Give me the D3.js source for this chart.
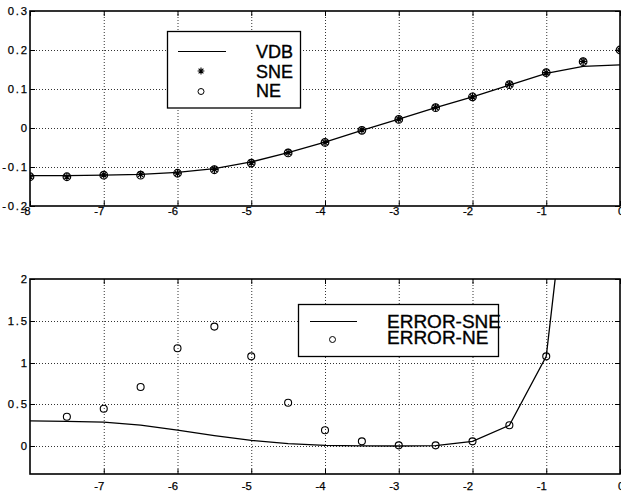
<!DOCTYPE html>
<html>
<head>
<meta charset="utf-8">
<script src="https://cdn.jsdelivr.net/npm/d3@7"></script>
<style>
  html, body { margin: 0; padding: 0; background: #fff; }
  svg { display: block; font-family: "Liberation Sans", Arial, sans-serif; }
</style>
</head>
<body>
<svg id="chart" width="621" height="495"></svg>
<script>
// ---------- data ----------
const xValues = [-8, -7.5, -7, -6.5, -6, -5.5, -5, -4.5, -4, -3.5, -3, -2.5, -2, -1.5, -1, -0.5, 0];
const vdb = [-0.122, -0.122, -0.121, -0.119, -0.114, -0.104, -0.087, -0.063, -0.036, -0.006, 0.023, 0.052, 0.080, 0.110, 0.140, 0.158, 0.162];
const sne = [-0.125, -0.125, -0.120, -0.119, -0.116, -0.106, -0.089, -0.063, -0.037, -0.005, 0.023, 0.053, 0.080, 0.112, 0.142, 0.171, 0.200];
const ne  = [-0.125, -0.125, -0.121, -0.121, -0.116, -0.107, -0.090, -0.064, -0.037, -0.006, 0.022, 0.052, 0.080, 0.111, 0.142, 0.170, 0.200];

const errSneX = [-8, -7.5, -7, -6.5, -6, -5.5, -5, -4.5, -4, -3.5, -3, -2.5, -2, -1.5, -1, -0.5];
const errSne  = [0.300, 0.296, 0.287, 0.250, 0.190, 0.125, 0.068, 0.028, 0.008, 0.002, 0.000, 0.005, 0.055, 0.248, 1.074, 4.9];
const errNeX  = [-7.5, -7, -6.5, -6, -5.5, -5, -4.5, -4, -3.5, -3, -2.5, -2, -1.5, -1, -0.5];
const errNe   = [0.351, 0.447, 0.707, 1.170, 1.430, 1.074, 0.519, 0.188, 0.056, 0.008, 0.008, 0.056, 0.248, 1.074, 4.9];

const topXTicks = [-8, -7, -6, -5, -4, -3, -2, -1, 0];
const topYTicks = [-0.2, -0.1, 0, 0.1, 0.2, 0.3];
const botXTicks = [-7, -6, -5, -4, -3, -2, -1, 0];
const botYTicks = [0, 0.5, 1, 1.5, 2];

const topLegend = ["VDB", "SNE", "NE"];
const botLegend = ["ERROR-SNE", "ERROR-NE"];

// ---------- drawing ----------
const svg = d3.select("#chart");

function starPath(r) {
  const d = r * Math.SQRT1_2;
  return `M${-r},0L${r},0M0,${-r}L0,${r}M${-d},${-d}L${d},${d}M${-d},${d}L${d},${-d}`;
}

function makePanel(cfg) {
  const g = svg.append("g");
  const x = d3.scaleLinear().domain(cfg.xDomain).range([cfg.left, cfg.right]);
  const y = d3.scaleLinear().domain(cfg.yDomain).range([cfg.bottom, cfg.top]);
  const id = "clip" + cfg.name;
  svg.append("defs").append("clipPath").attr("id", id)
    .append("rect").attr("x", cfg.left).attr("y", cfg.top)
    .attr("width", cfg.right - cfg.left).attr("height", cfg.bottom - cfg.top);

  // grid
  const grid = g.append("g").attr("stroke", "#333").attr("stroke-width", 1)
    .attr("stroke-dasharray", "1,2").attr("fill", "none");
  cfg.xTicks.forEach(t => {
    if (t === cfg.xDomain[0] || t === cfg.xDomain[1]) return;
    grid.append("line").attr("x1", x(t) + 0.5).attr("x2", x(t) + 0.5)
      .attr("y1", cfg.top).attr("y2", cfg.bottom);
  });
  cfg.yTicks.forEach(t => {
    if (Math.abs(y(t) - cfg.top) < 1 || Math.abs(y(t) - cfg.bottom) < 1) return;
    grid.append("line").attr("y1", Math.round(y(t)) + 0.5).attr("y2", Math.round(y(t)) + 0.5)
      .attr("x1", cfg.left).attr("x2", cfg.right);
  });

  // inward ticks on all four sides
  const tk = g.append("g").attr("stroke", "#000").attr("stroke-width", 1);
  const L = 5;
  cfg.xTicks.forEach(t => {
    const xx = x(t) + 0.5;
    tk.append("line").attr("x1", xx).attr("x2", xx).attr("y1", cfg.bottom).attr("y2", cfg.bottom - L);
    tk.append("line").attr("x1", xx).attr("x2", xx).attr("y1", cfg.top).attr("y2", cfg.top + L);
  });
  cfg.yTicks.forEach(t => {
    const yy = Math.round(y(t)) + 0.5;
    tk.append("line").attr("y1", yy).attr("y2", yy).attr("x1", cfg.left).attr("x2", cfg.left + L);
    tk.append("line").attr("y1", yy).attr("y2", yy).attr("x1", cfg.right).attr("x2", cfg.right - L);
  });

  // tick labels
  const lab = g.append("g").attr("font-size", 11.3).attr("fill", "#000")
    .attr("stroke", "#000").attr("stroke-width", 0.25);
  cfg.yTicks.forEach(t => {
    lab.append("text").attr("x", cfg.left - 3 + 1.8).attr("y", y(t) + 4)
      .attr("text-anchor", "end").attr("letter-spacing", 1.8)
      .text(cfg.yFmt(t));
  });
  cfg.xTicks.forEach(t => {
    const neg = t < 0;
    lab.append("text").attr("x", neg ? x(t) + 0.5 : x(t) - 2).attr("y", cfg.xLabelY)
      .attr("text-anchor", neg ? "end" : "start").text(String(t));
  });

  return { g, x, y, clip: `url(#${id})` };
}

// ----- top panel -----
const topPanel = makePanel({
  name: "top", left: 30, right: 620, top: 11, bottom: 206,
  xDomain: [-8, 0], yDomain: [-0.2, 0.3],
  xTicks: topXTicks, yTicks: topYTicks,
  yFmt: d => (Math.round(d * 10) / 10).toString(), xLabelY: 214.5
});
{
  const { g, x, y, clip } = topPanel;
  const data = g.append("g").attr("clip-path", clip);
  data.append("path")
    .datum(xValues.map((v, i) => [v, vdb[i]]))
    .attr("fill", "none").attr("stroke", "#000").attr("stroke-width", 1.3)
    .attr("d", d3.line().x(d => x(d[0])).y(d => y(d[1])));
  data.selectAll(".ne").data(xValues.map((v, i) => [v, ne[i]])).join("circle")
    .attr("cx", d => x(d[0])).attr("cy", d => y(d[1])).attr("r", 3.8)
    .attr("fill", "none").attr("stroke", "#000").attr("stroke-width", 1.2);
  data.selectAll(".sne").data(xValues.map((v, i) => [v, sne[i]])).join("path")
    .attr("transform", d => `translate(${x(d[0])},${y(d[1])})`)
    .attr("d", starPath(3.8)).attr("fill", "none").attr("stroke", "#000").attr("stroke-width", 1.2);
}

// ----- bottom panel -----
const botPanel = makePanel({
  name: "bot", left: 30, right: 620, top: 279, bottom: 474,
  xDomain: [-8, 0], yDomain: [-0.335, 2],
  xTicks: botXTicks, yTicks: botYTicks,
  yFmt: d => d.toString(), xLabelY: 490
});
{
  const { g, x, y, clip } = botPanel;
  const data = g.append("g").attr("clip-path", clip);
  data.append("path")
    .datum(errSneX.map((v, i) => [v, errSne[i]]))
    .attr("fill", "none").attr("stroke", "#000").attr("stroke-width", 1.3)
    .attr("d", d3.line().x(d => x(d[0])).y(d => y(d[1])));
  data.selectAll(".ene").data(errNeX.map((v, i) => [v, errNe[i]])).join("circle")
    .attr("cx", d => x(d[0])).attr("cy", d => y(d[1])).attr("r", 3.5)
    .attr("fill", "none").attr("stroke", "#000").attr("stroke-width", 1.1);
}

// axes frames (drawn after data)
[topPanel, botPanel].forEach((p, i) => {
  const cfg = i === 0 ? { l: 30, r: 620, t: 11, b: 206 } : { l: 30, r: 620, t: 279, b: 474 };
  p.g.append("rect").attr("x", cfg.l).attr("y", cfg.t)
    .attr("width", cfg.r - cfg.l).attr("height", cfg.b - cfg.t)
    .attr("fill", "none").attr("stroke", "#000").attr("stroke-width", 1.6);
});

// ----- legends -----
{
  const lg = svg.append("g");
  lg.append("rect").attr("x", 167.5).attr("y", 31.5).attr("width", 133).attr("height", 76.5)
    .attr("fill", "#fff").attr("stroke", "#000").attr("stroke-width", 1.3);
  const rows = [51.5, 71, 90.5];
  lg.append("line").attr("x1", 178).attr("x2", 226).attr("y1", rows[0]).attr("y2", rows[0])
    .attr("stroke", "#000").attr("stroke-width", 1.2);
  lg.append("path").attr("transform", `translate(201,${rows[1]})`).attr("d", starPath(3.4))
    .attr("fill", "none").attr("stroke", "#000").attr("stroke-width", 1.1);
  lg.append("circle").attr("cx", 201).attr("cy", rows[2] + 1).attr("r", 3)
    .attr("fill", "none").attr("stroke", "#000").attr("stroke-width", 1);
  topLegend.forEach((t, i) => {
    lg.append("text").attr("x", 256).attr("y", rows[i] + 6.5).attr("font-size", 18)
      .attr("fill", "#000").attr("stroke", "#000").attr("stroke-width", 0.35).text(t);
  });
}
{
  const lg = svg.append("g");
  lg.append("rect").attr("x", 298.5).attr("y", 304.5).attr("width", 200).attr("height", 52)
    .attr("fill", "#fff").attr("stroke", "#000").attr("stroke-width", 1.3);
  lg.append("line").attr("x1", 310).attr("x2", 357).attr("y1", 321.5).attr("y2", 321.5)
    .attr("stroke", "#000").attr("stroke-width", 1.2);
  lg.append("circle").attr("cx", 332.5).attr("cy", 339.5).attr("r", 3)
    .attr("fill", "none").attr("stroke", "#000").attr("stroke-width", 1);
  const rows = [321.3, 336.8];
  botLegend.forEach((t, i) => {
    lg.append("text").attr("x", 387).attr("y", rows[i] + 7).attr("font-size", 19)
      .attr("fill", "#000").attr("stroke", "#000").attr("stroke-width", 0.35).text(t);
  });
}
</script>
</body>
</html>
